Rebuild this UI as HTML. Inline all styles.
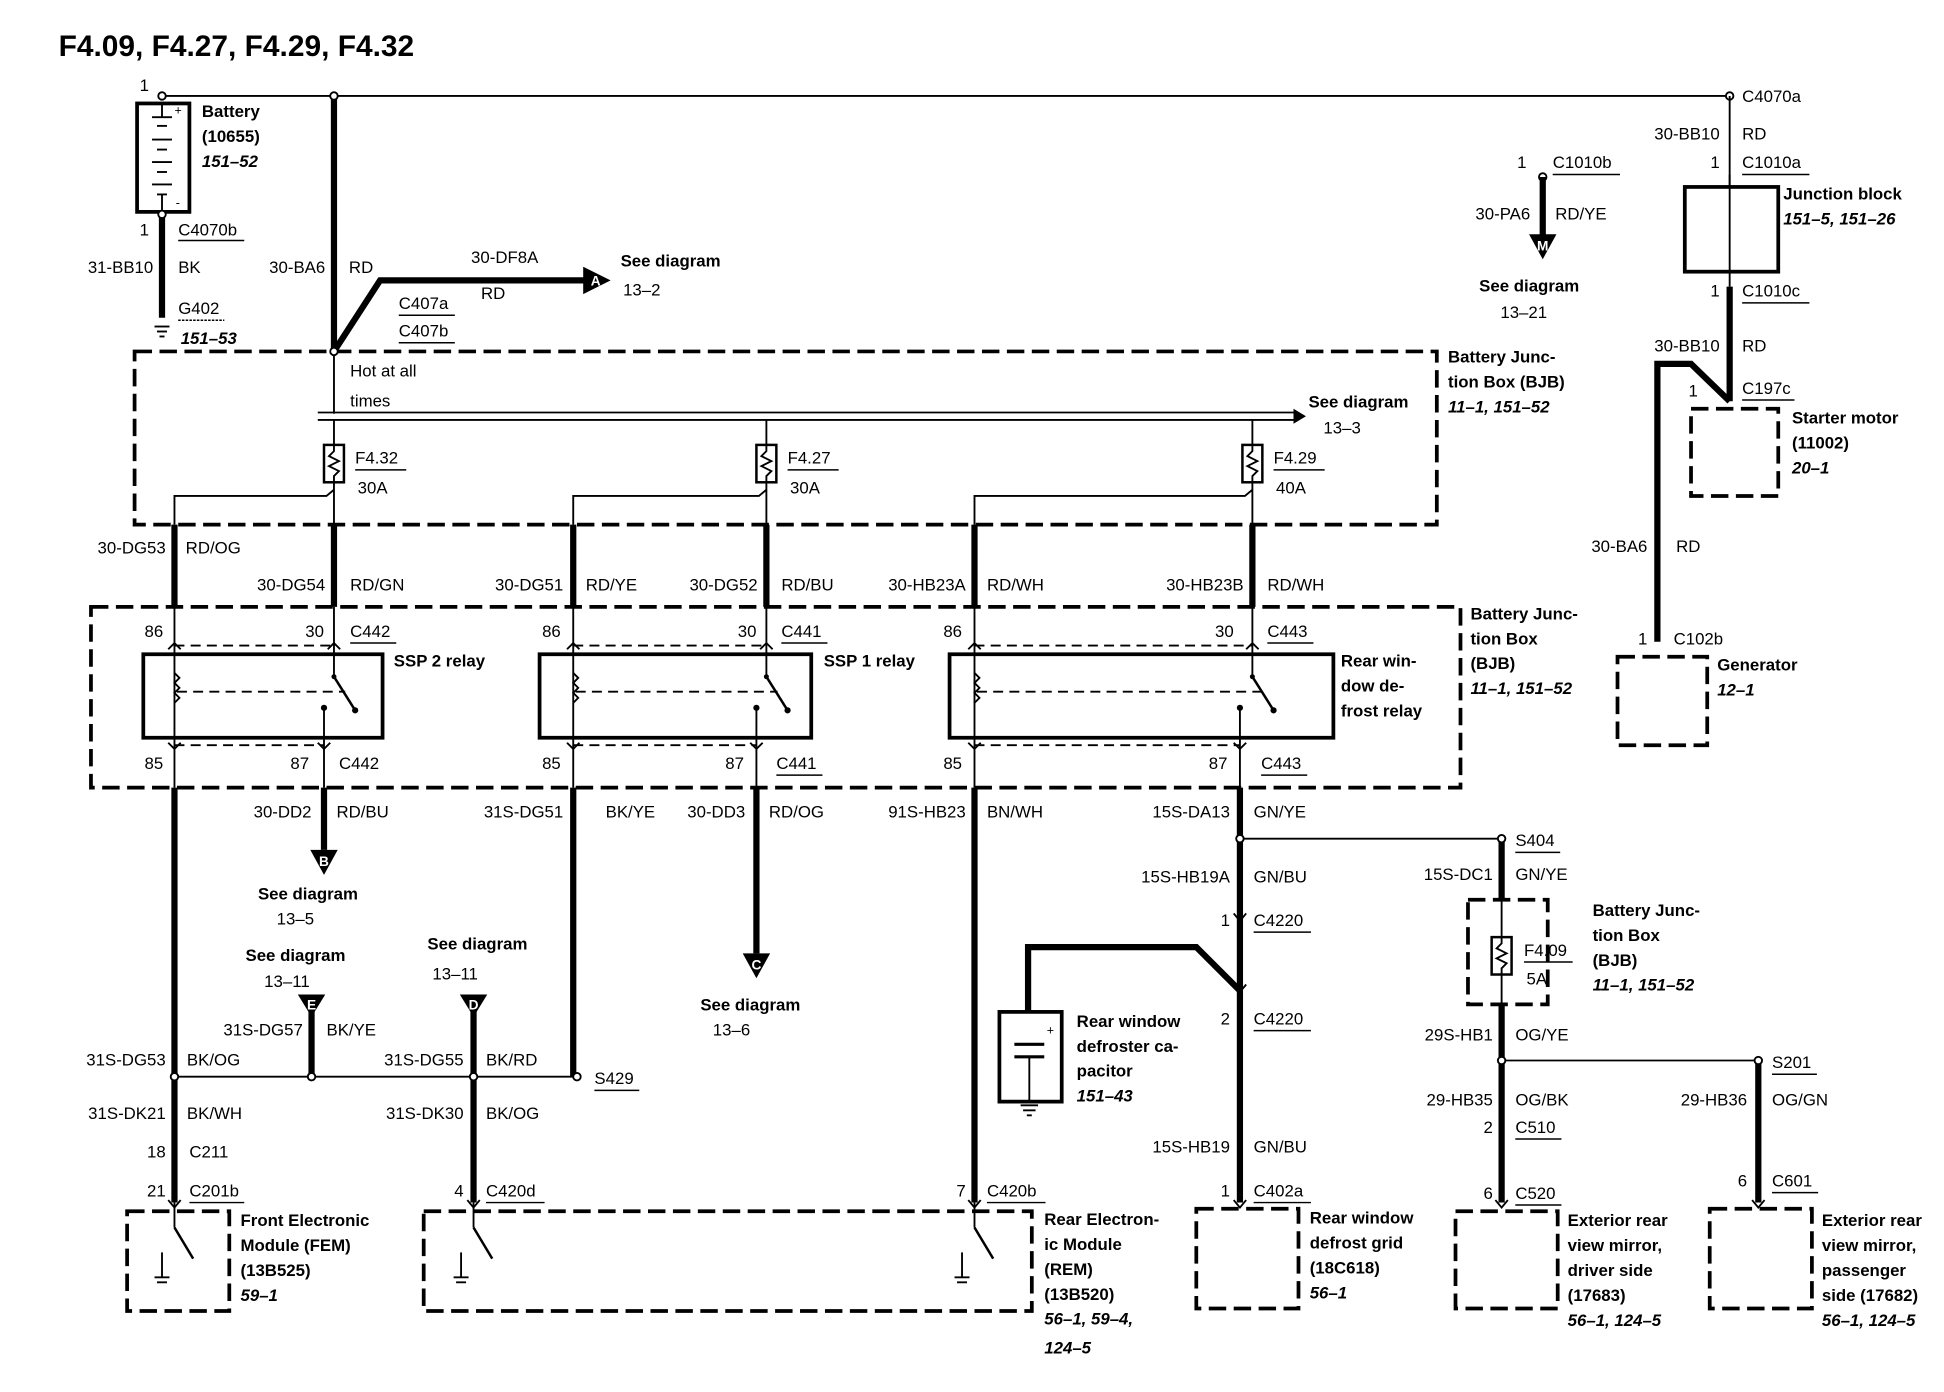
<!DOCTYPE html>
<html><head><meta charset="utf-8"><style>
html,body{margin:0;padding:0;background:#fff}
svg{display:block}
text{font-family:"Liberation Sans",sans-serif;font-size:13.5px;fill:#000}
.b{font-weight:bold}
.bi{font-weight:bold;font-style:italic}
.r{text-anchor:end}
.t{stroke:#000;stroke-width:1.5;fill:none}
.k{stroke:#000;stroke-width:5;fill:none}
.d{stroke:#000;stroke-width:3;fill:none;stroke-dasharray:14 6}
.bx{stroke:#000;stroke-width:3;fill:none}
.u{stroke:#000;stroke-width:1.2}
.c{fill:#fff;stroke:#000;stroke-width:1.5}
.al{font-size:11px;font-weight:bold;fill:#fff;text-anchor:middle}
</style></head><body>
<svg width="1944" height="1392" viewBox="0 0 1560 1117" xmlns="http://www.w3.org/2000/svg">
<text x="47" y="45" class="b" style="font-size:24px">F4.09, F4.27, F4.29, F4.32</text>

<line class="t" x1="130" y1="77" x2="1388" y2="77"/>
<text x="112" y="73">1</text>
<rect class="bx" x="110" y="83" width="42" height="87"/>
<g class="t"><line x1="122" y1="94" x2="138" y2="94"/><line x1="126" y1="101" x2="134" y2="101"/><line x1="122" y1="112" x2="138" y2="112"/><line x1="126" y1="120" x2="134" y2="120"/><line x1="122" y1="130" x2="138" y2="130"/><line x1="126" y1="138" x2="134" y2="138"/><line x1="122" y1="148" x2="138" y2="148"/><line x1="126" y1="156" x2="134" y2="156"/><line x1="130" y1="83" x2="130" y2="94"/><line x1="130" y1="156" x2="130" y2="170"/></g>
<text x="140" y="92" style="font-size:10px">+</text><text x="141" y="166" style="font-size:10px">-</text>
<text x="162" y="94" class="b">Battery</text><text x="162" y="114" class="b">(10655)</text><text x="162" y="134" class="bi">151–52</text>
<line class="k" x1="130" y1="172" x2="130" y2="255"/>
<text x="112" y="189">1</text><text x="143" y="189">C4070b</text><line class="u" x1="143" y1="193" x2="196" y2="193"/>
<text x="123" y="219" class="r">31-BB10</text><text x="143" y="219">BK</text>
<text x="143" y="252">G402</text><line class="u" x1="143" y1="257" x2="180" y2="257" stroke-dasharray="2 1"/>
<g class="t"><line x1="124" y1="262" x2="136" y2="262"/><line x1="126" y1="266" x2="134" y2="266"/><line x1="128" y1="270" x2="132" y2="270"/></g>
<text x="145" y="276" class="bi">151–53</text>

<line class="k" x1="268" y1="77" x2="268" y2="282"/>
<text x="261" y="219" class="r">30-BA6</text><text x="280" y="219">RD</text>
<polyline class="k" points="268,282 305,225 470,225"/>
<polygon points="468,214 490,225 468,236"/><text x="478" y="229" class="al">A</text>
<text x="378" y="211">30-DF8A</text><text x="386" y="240">RD</text>
<text x="320" y="248">C407a</text><line class="u" x1="320" y1="253" x2="365" y2="253"/>
<text x="320" y="270">C407b</text><line class="u" x1="320" y1="275" x2="365" y2="275"/>
<text x="498" y="214" class="b">See diagram</text><text x="500" y="237">13–2</text>

<rect class="d" x="108" y="282" width="1045" height="139"/>
<line class="t" x1="268" y1="282" x2="268" y2="332"/>
<text x="281" y="302">Hot at all</text><text x="281" y="326">times</text>
<line class="t" x1="255" y1="331" x2="1040" y2="331"/><line class="t" x1="255" y1="337" x2="1040" y2="337"/>
<polygon points="1038,328 1048,334 1038,340"/>
<text x="1050" y="327" class="b">See diagram</text><text x="1062" y="348">13–3</text>
<text x="1162" y="291" class="b">Battery Junc-</text><text x="1162" y="311" class="b">tion Box (BJB)</text><text x="1162" y="331" class="bi">11–1, 151–52</text>

<g class="t">
<line x1="268" y1="337" x2="268" y2="357"/><rect x="260" y="357" width="16" height="30" stroke-width="2"/><polyline points="268,357 268,362 264,366 272,370 264,374 272,378 268,382 268,387"/><line x1="268" y1="387" x2="268" y2="421"/><polyline points="268,393 262,398 140,398 140,421"/>
<line x1="615" y1="337" x2="615" y2="357"/><rect x="607" y="357" width="16" height="30" stroke-width="2"/><polyline points="615,357 615,362 611,366 619,370 611,374 619,378 615,382 615,387"/><line x1="615" y1="387" x2="615" y2="421"/><polyline points="615,393 609,398 460,398 460,421"/>
<line x1="1005" y1="337" x2="1005" y2="357"/><rect x="997" y="357" width="16" height="30" stroke-width="2"/><polyline points="1005,357 1005,362 1001,366 1009,370 1001,374 1009,378 1005,382 1005,387"/><line x1="1005" y1="387" x2="1005" y2="421"/><polyline points="1005,393 999,398 782,398 782,421"/>
</g>
<text x="285" y="372">F4.32</text><line class="u" x1="285" y1="377" x2="326" y2="377"/><text x="287" y="396">30A</text>
<text x="632" y="372">F4.27</text><line class="u" x1="632" y1="377" x2="673" y2="377"/><text x="634" y="396">30A</text>
<text x="1022" y="372">F4.29</text><line class="u" x1="1022" y1="377" x2="1063" y2="377"/><text x="1024" y="396">40A</text>

<g class="k"><line x1="140" y1="421" x2="140" y2="487"/><line x1="268" y1="421" x2="268" y2="487"/><line x1="460" y1="421" x2="460" y2="487"/><line x1="615" y1="421" x2="615" y2="487"/><line x1="782" y1="421" x2="782" y2="487"/><line x1="1005" y1="421" x2="1005" y2="487"/></g>
<text x="133" y="444" class="r">30-DG53</text><text x="149" y="444">RD/OG</text>
<text x="261" y="474" class="r">30-DG54</text><text x="281" y="474">RD/GN</text>
<text x="452" y="474" class="r">30-DG51</text><text x="470" y="474">RD/YE</text>
<text x="608" y="474" class="r">30-DG52</text><text x="627" y="474">RD/BU</text>
<text x="775" y="474" class="r">30-HB23A</text><text x="792" y="474">RD/WH</text>
<text x="998" y="474" class="r">30-HB23B</text><text x="1017" y="474">RD/WH</text>

<rect class="d" x="73" y="487" width="1099" height="145"/>
<text x="1180" y="497" class="b">Battery Junc-</text><text x="1180" y="517" class="b">tion Box</text><text x="1180" y="537" class="b">(BJB)</text><text x="1180" y="557" class="bi">11–1, 151–52</text>

<g class="t">
<line x1="140" y1="487" x2="140" y2="632"/><line x1="268" y1="487" x2="268" y2="543"/><line x1="260" y1="568" x2="260" y2="632"/>
<line x1="460" y1="487" x2="460" y2="632"/><line x1="615" y1="487" x2="615" y2="543"/><line x1="607" y1="568" x2="607" y2="632"/>
<line x1="782" y1="487" x2="782" y2="632"/><line x1="1005" y1="487" x2="1005" y2="543"/><line x1="995" y1="568" x2="995" y2="632"/>
<g stroke-dasharray="8 5"><line x1="140" y1="518" x2="268" y2="518"/><line x1="140" y1="598" x2="260" y2="598"/><line x1="460" y1="518" x2="615" y2="518"/><line x1="460" y1="598" x2="607" y2="598"/><line x1="782" y1="518" x2="1005" y2="518"/><line x1="782" y1="598" x2="995" y2="598"/>
<line x1="142" y1="555" x2="277" y2="555"/><line x1="462" y1="555" x2="624" y2="555"/><line x1="784" y1="555" x2="1014" y2="555"/></g>
<polyline points="140,540 144,544 140,548 144,552 140,556 144,560 140,564"/><polyline points="460,540 464,544 460,548 464,552 460,556 464,560 460,564"/><polyline points="782,540 786,544 782,548 786,552 782,556 786,560 782,564"/>
<line x1="268" y1="543" x2="285" y2="570" stroke-width="2"/><line x1="615" y1="543" x2="632" y2="570" stroke-width="2"/><line x1="1005" y1="543" x2="1022" y2="570" stroke-width="2"/>
<polyline points="135,521 140,516 145,521"/><polyline points="263,521 268,516 273,521"/><polyline points="455,521 460,516 465,521"/><polyline points="610,521 615,516 620,521"/><polyline points="777,521 782,516 787,521"/><polyline points="1000,521 1005,516 1010,521"/>
<polyline points="135,596 140,601 145,596"/><polyline points="255,596 260,601 265,596"/><polyline points="455,596 460,601 465,596"/><polyline points="602,596 607,601 612,596"/><polyline points="777,596 782,601 787,596"/><polyline points="990,596 995,601 1000,596"/>
</g>
<g><circle cx="260" cy="568" r="2.5"/><circle cx="285" cy="570" r="2.5"/><circle cx="268" cy="543" r="2"/><circle cx="607" cy="568" r="2.5"/><circle cx="632" cy="570" r="2.5"/><circle cx="615" cy="543" r="2"/><circle cx="995" cy="568" r="2.5"/><circle cx="1022" cy="570" r="2.5"/><circle cx="1005" cy="543" r="2"/></g>
<rect class="bx" x="115" y="525" width="192" height="67"/>
<rect class="bx" x="433" y="525" width="218" height="67"/>
<rect class="bx" x="762" y="525" width="308" height="67"/>
<text x="116" y="511">86</text><text x="245" y="511">30</text><text x="281" y="511">C442</text><line class="u" x1="281" y1="516" x2="318" y2="516"/>
<text x="435" y="511">86</text><text x="592" y="511">30</text><text x="627" y="511">C441</text><line class="u" x1="627" y1="516" x2="664" y2="516"/>
<text x="757" y="511">86</text><text x="975" y="511">30</text><text x="1017" y="511">C443</text><line class="u" x1="1017" y1="516" x2="1054" y2="516"/>
<text x="316" y="535" class="b">SSP 2 relay</text><text x="661" y="535" class="b">SSP 1 relay</text>
<text x="1076" y="535" class="b">Rear win-</text><text x="1076" y="555" class="b">dow de-</text><text x="1076" y="575" class="b">frost relay</text>
<text x="116" y="617">85</text><text x="233" y="617">87</text><text x="272" y="617">C442</text>
<text x="435" y="617">85</text><text x="582" y="617">87</text><text x="623" y="617">C441</text><line class="u" x1="623" y1="622" x2="660" y2="622"/>
<text x="757" y="617">85</text><text x="970" y="617">87</text><text x="1012" y="617">C443</text><line class="u" x1="1012" y1="622" x2="1049" y2="622"/>

<g class="k">
<line x1="140" y1="632" x2="140" y2="965"/>
<line x1="260" y1="632" x2="260" y2="682"/>
<line x1="250" y1="808" x2="250" y2="864"/>
<line x1="380" y1="808" x2="380" y2="965"/>
<line x1="460" y1="632" x2="460" y2="864"/>
<line x1="607" y1="632" x2="607" y2="765"/>
<line x1="782" y1="632" x2="782" y2="965"/>
<line x1="995" y1="632" x2="995" y2="965"/>
<polyline points="995,795 960,760 825,760 825,812"/>
<line x1="1205" y1="673" x2="1205" y2="722"/>
<line x1="1205" y1="806" x2="1205" y2="965"/>
<line x1="1411" y1="851" x2="1411" y2="965"/>
</g>
<line class="t" x1="140" y1="864" x2="463" y2="864"/>
<line class="t" x1="995" y1="673" x2="1205" y2="673"/>
<line class="t" x1="1205" y1="851" x2="1411" y2="851"/>
<circle class="c" cx="140" cy="864" r="3"/><circle class="c" cx="250" cy="864" r="3"/><circle class="c" cx="380" cy="864" r="3"/><circle class="c" cx="463" cy="864" r="3"/>
<circle class="c" cx="995" cy="673" r="3"/><circle class="c" cx="1205" cy="673" r="3"/><circle class="c" cx="1205" cy="851" r="3"/><circle class="c" cx="1411" cy="851" r="3"/>
<circle class="c" cx="130" cy="77" r="3"/><circle class="c" cx="268" cy="77" r="3"/><circle class="c" cx="1388" cy="77" r="3"/><circle class="c" cx="130" cy="172" r="3"/><circle class="c" cx="268" cy="282" r="3"/><circle class="c" cx="1238" cy="142" r="3"/>

<polygon points="249,682 271,682 260,702"/><text x="260" y="695" class="al">B</text>
<polygon points="596,765 618,765 607,785"/><text x="607" y="778" class="al">C</text>
<polygon points="239,798 261,798 250,816"/><text x="250" y="810" class="al">E</text>
<polygon points="369,798 391,798 380,816"/><text x="380" y="810" class="al">D</text>
<polygon points="1227,188 1249,188 1238,208"/><text x="1238" y="201" class="al">M</text>

<text x="250" y="656" class="r">30-DD2</text><text x="270" y="656">RD/BU</text>
<text x="207" y="722" class="b">See diagram</text><text x="222" y="742">13–5</text>
<text x="197" y="771" class="b">See diagram</text><text x="212" y="792">13–11</text>
<text x="343" y="762" class="b">See diagram</text><text x="347" y="786">13–11</text>
<text x="452" y="656" class="r">31S-DG51</text><text x="486" y="656">BK/YE</text>
<text x="598" y="656" class="r">30-DD3</text><text x="617" y="656">RD/OG</text>
<text x="562" y="811" class="b">See diagram</text><text x="572" y="831">13–6</text>
<text x="775" y="656" class="r">91S-HB23</text><text x="792" y="656">BN/WH</text>
<text x="987" y="656" class="r">15S-DA13</text><text x="1006" y="656">GN/YE</text>
<text x="243" y="831" class="r">31S-DG57</text><text x="262" y="831">BK/YE</text>
<text x="133" y="855" class="r">31S-DG53</text><text x="150" y="855">BK/OG</text>
<text x="372" y="855" class="r">31S-DG55</text><text x="390" y="855">BK/RD</text>
<text x="477" y="870">S429</text><line class="u" x1="477" y1="875" x2="513" y2="875"/>
<text x="133" y="898" class="r">31S-DK21</text><text x="150" y="898">BK/WH</text>
<text x="372" y="898" class="r">31S-DK30</text><text x="390" y="898">BK/OG</text>
<text x="133" y="929" class="r">18</text><text x="152" y="929">C211</text>
<text x="133" y="960" class="r">21</text><text x="152" y="960">C201b</text><line class="u" x1="152" y1="965" x2="196" y2="965"/>
<text x="372" y="960" class="r">4</text><text x="390" y="960">C420d</text><line class="u" x1="390" y1="965" x2="437" y2="965"/>
<text x="775" y="960" class="r">7</text><text x="792" y="960">C420b</text><line class="u" x1="792" y1="965" x2="839" y2="965"/>

<text x="987" y="708" class="r">15S-HB19A</text><text x="1006" y="708">GN/BU</text>
<text x="987" y="743" class="r">1</text><text x="1006" y="743">C4220</text><line class="u" x1="1006" y1="748" x2="1052" y2="748"/>
<polyline class="t" points="990,733 995,739 1000,733"/><polyline class="t" points="990,790 995,796 1000,790"/>
<text x="987" y="822" class="r">2</text><text x="1006" y="822">C4220</text><line class="u" x1="1006" y1="827" x2="1052" y2="827"/>
<text x="987" y="925" class="r">15S-HB19</text><text x="1006" y="925">GN/BU</text>
<text x="987" y="960" class="r">1</text><text x="1006" y="960">C402a</text><line class="u" x1="1006" y1="965" x2="1052" y2="965"/>
<rect class="bx" x="802" y="812" width="50" height="72"/>
<g class="t"><line x1="814" y1="838" x2="838" y2="838" stroke-width="2.5"/><line x1="814" y1="848" x2="838" y2="848" stroke-width="2.5"/><line x1="826" y1="848" x2="826" y2="884"/><line x1="819" y1="887" x2="833" y2="887"/><line x1="821" y1="891" x2="831" y2="891"/><line x1="824" y1="895" x2="828" y2="895"/></g>
<text x="840" y="830" style="font-size:10px">+</text>
<text x="864" y="824" class="b">Rear window</text><text x="864" y="844" class="b">defroster ca-</text><text x="864" y="864" class="b">pacitor</text><text x="864" y="884" class="bi">151–43</text>

<rect class="d" x="102" y="972" width="82" height="80"/>
<rect class="d" x="340" y="972" width="488" height="80"/>
<rect class="d" x="960" y="970" width="82" height="80"/>
<rect class="d" x="1168" y="972" width="82" height="78"/>
<rect class="d" x="1372" y="970" width="82" height="80"/>
<g class="t">
<line x1="140" y1="965" x2="140" y2="985"/><line x1="140" y1="985" x2="155" y2="1010" stroke-width="2"/><line x1="130" y1="1005" x2="130" y2="1025"/><line x1="124" y1="1025" x2="136" y2="1025"/><line x1="126" y1="1029" x2="134" y2="1029"/>
<line x1="380" y1="965" x2="380" y2="985"/><line x1="380" y1="985" x2="395" y2="1010" stroke-width="2"/><line x1="370" y1="1005" x2="370" y2="1025"/><line x1="364" y1="1025" x2="376" y2="1025"/><line x1="366" y1="1029" x2="374" y2="1029"/>
<line x1="782" y1="965" x2="782" y2="985"/><line x1="782" y1="985" x2="797" y2="1010" stroke-width="2"/><line x1="772" y1="1005" x2="772" y2="1025"/><line x1="766" y1="1025" x2="778" y2="1025"/><line x1="768" y1="1029" x2="776" y2="1029"/>
<polyline points="135,963 140,969 145,963"/><polyline points="375,963 380,969 385,963"/><polyline points="777,963 782,969 787,963"/><polyline points="990,963 995,969 1000,963"/><polyline points="1200,963 1205,969 1210,963"/><polyline points="1406,963 1411,969 1416,963"/>
</g>
<text x="193" y="984" class="b">Front Electronic</text><text x="193" y="1004" class="b">Module (FEM)</text><text x="193" y="1024" class="b">(13B525)</text><text x="193" y="1044" class="bi">59–1</text>
<text x="838" y="983" class="b">Rear Electron-</text><text x="838" y="1003" class="b">ic Module</text><text x="838" y="1023" class="b">(REM)</text><text x="838" y="1043" class="b">(13B520)</text><text x="838" y="1063" class="bi">56–1, 59–4,</text><text x="838" y="1086" class="bi">124–5</text>
<text x="1051" y="982" class="b">Rear window</text><text x="1051" y="1002" class="b">defrost grid</text><text x="1051" y="1022" class="b">(18C618)</text><text x="1051" y="1042" class="bi">56–1</text>
<text x="1258" y="984" class="b">Exterior rear</text><text x="1258" y="1004" class="b">view mirror,</text><text x="1258" y="1024" class="b">driver side</text><text x="1258" y="1044" class="b">(17683)</text><text x="1258" y="1064" class="bi">56–1, 124–5</text>
<text x="1462" y="984" class="b">Exterior rear</text><text x="1462" y="1004" class="b">view mirror,</text><text x="1462" y="1024" class="b">passenger</text><text x="1462" y="1044" class="b">side (17682)</text><text x="1462" y="1064" class="bi">56–1, 124–5</text>

<text x="1216" y="679">S404</text><line class="u" x1="1216" y1="684" x2="1252" y2="684"/>
<text x="1198" y="706" class="r">15S-DC1</text><text x="1216" y="706">GN/YE</text>
<rect class="d" x="1178" y="722" width="64" height="84"/>
<g class="t"><line x1="1205" y1="722" x2="1205" y2="752"/><rect x="1197" y="752" width="16" height="30" stroke-width="2"/><polyline points="1205,752 1205,757 1201,761 1209,765 1201,769 1209,773 1205,777 1205,782"/><line x1="1205" y1="782" x2="1205" y2="806"/></g>
<text x="1223" y="767">F4.09</text><line class="u" x1="1223" y1="772" x2="1262" y2="772"/><text x="1225" y="790">5A</text>
<text x="1278" y="735" class="b">Battery Junc-</text><text x="1278" y="755" class="b">tion Box</text><text x="1278" y="775" class="b">(BJB)</text><text x="1278" y="795" class="bi">11–1, 151–52</text>
<text x="1198" y="835" class="r">29S-HB1</text><text x="1216" y="835">OG/YE</text>
<text x="1422" y="857">S201</text><line class="u" x1="1422" y1="862" x2="1458" y2="862"/>
<text x="1198" y="887" class="r">29-HB35</text><text x="1216" y="887">OG/BK</text>
<text x="1402" y="887" class="r">29-HB36</text><text x="1422" y="887">OG/GN</text>
<text x="1198" y="909" class="r">2</text><text x="1216" y="909">C510</text><line class="u" x1="1216" y1="914" x2="1253" y2="914"/>
<text x="1198" y="962" class="r">6</text><text x="1216" y="962">C520</text><line class="u" x1="1216" y1="967" x2="1253" y2="967"/>
<text x="1402" y="952" class="r">6</text><text x="1422" y="952">C601</text><line class="u" x1="1422" y1="957" x2="1459" y2="957"/>

<text x="1398" y="82">C4070a</text>
<line class="t" x1="1388" y1="77" x2="1388" y2="150"/>
<text x="1380" y="112" class="r">30-BB10</text><text x="1398" y="112">RD</text>
<text x="1380" y="135" class="r">1</text><text x="1398" y="135">C1010a</text><line class="u" x1="1398" y1="140" x2="1452" y2="140"/>
<rect class="bx" x="1352" y="150" width="75" height="68"/>
<line class="t" x1="1388" y1="140" x2="1388" y2="230"/>
<text x="1431" y="160" class="b">Junction block</text><text x="1431" y="180" class="bi">151–5, 151–26</text>
<text x="1380" y="238" class="r">1</text><text x="1398" y="238">C1010c</text><line class="u" x1="1398" y1="243" x2="1452" y2="243"/>
<line class="k" x1="1388" y1="230" x2="1388" y2="322"/>
<polyline class="k" points="1388,322 1357,292 1330,292 1330,515"/>
<text x="1380" y="282" class="r">30-BB10</text><text x="1398" y="282">RD</text>
<text x="1355" y="318">1</text><text x="1398" y="316">C197c</text><line class="u" x1="1398" y1="321" x2="1440" y2="321"/>
<rect class="d" x="1357" y="328" width="70" height="70"/>
<text x="1438" y="340" class="b">Starter motor</text><text x="1438" y="360" class="b">(11002)</text><text x="1438" y="380" class="bi">20–1</text>
<text x="1322" y="443" class="r">30-BA6</text><text x="1345" y="443">RD</text>
<text x="1322" y="517" class="r">1</text><text x="1343" y="517">C102b</text>
<rect class="d" x="1298" y="527" width="72" height="71"/>
<text x="1378" y="538" class="b">Generator</text><text x="1378" y="558" class="bi">12–1</text>
<text x="1225" y="135" class="r">1</text><text x="1246" y="135">C1010b</text><line class="u" x1="1246" y1="140" x2="1300" y2="140"/>
<line class="k" x1="1238" y1="142" x2="1238" y2="190"/>
<text x="1228" y="176" class="r">30-PA6</text><text x="1248" y="176">RD/YE</text>
<text x="1187" y="234" class="b">See diagram</text><text x="1204" y="255">13–21</text>
</svg>
</body></html>
